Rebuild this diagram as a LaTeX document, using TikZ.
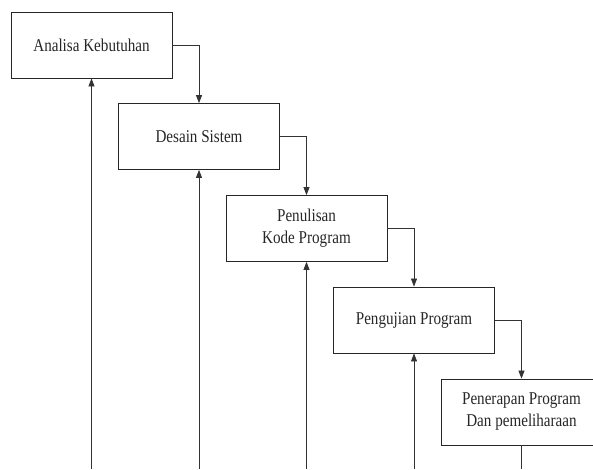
\documentclass[tikz,border=0pt]{standalone}
\usepackage{fontspec}
\setmainfont{Liberation Serif}
\newfontfamily\stagefont[FakeStretch=0.84]{Liberation Serif}
\usetikzlibrary{arrows.meta}
\begin{document}
\begin{tikzpicture}[x=1pt,y=-1pt,
  stage/.style={draw=black!85, line width=0.8pt, minimum width=161pt, minimum height=66pt,
    align=center, inner sep=0pt, text=black!85, font=\stagefont\fontsize{18}{22}\selectfont},
  flow/.style={draw=black!80, line width=0.7pt, -{Triangle[width=6pt,length=8pt]}},
  tail/.style={draw=black!80, line width=0.7pt},
]
\useasboundingbox (0,0) rectangle (593,469);
\begin{scope}
\clip (0,0) rectangle (593,469);
% the five waterfall stages
\node[stage] (s1) at (91.5,45)    {Analisa Kebutuhan};
\node[stage] (s2) at (199,136.5)  {Desain Sistem};
\node[stage] (s3) at (306.5,228.5){Penulisan\\Kode Program};
\node[stage] (s4) at (414,320)    {Pengujian Program};
\node[stage] (s5) at (521.5,412)  {Penerapan Program\\Dan pemeliharaan};
\coordinate (foot) at (0,469);
% forward flow
\draw[flow] (s1.east) -| (s2.north);
\draw[flow] (s2.east) -| (s3.north);
\draw[flow] (s3.east) -| (s4.north);
\draw[flow] (s4.east) -| (s5.north);
% feedback lines rising from below
\draw[flow] (s1.south |- foot) -- (s1.south);
\draw[flow] (s2.south |- foot) -- (s2.south);
\draw[flow] (s3.south |- foot) -- (s3.south);
\draw[flow] (s4.south |- foot) -- (s4.south);
\draw[tail] (s5.south) -- (s5.south |- foot);
\end{scope}
\end{tikzpicture}
\end{document}
